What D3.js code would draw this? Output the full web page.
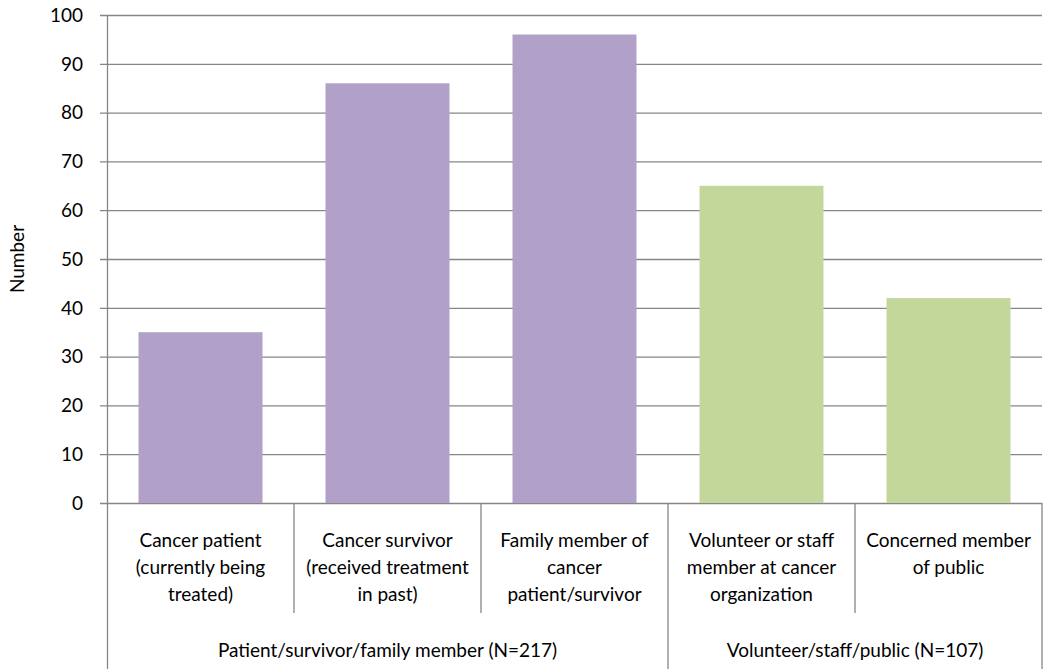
<!DOCTYPE html>
<html>
<head>
<meta charset="utf-8">
<script src="https://cdn.jsdelivr.net/npm/d3@7"></script>
<style>
  body { margin: 0; background: #fff; }
  text { font-family: Lato, "Open Sans", sans-serif; fill: #000; }
</style>
</head>
<body>
<div id="chart"></div>
<script>
(function () {
    'use strict';

    // data
    var categories = [
        ['Cancer patient', '(currently being', 'treated)'],
        ['Cancer survivor', '(received treatment', 'in past)'],
        ['Family member of', 'cancer', 'patient/survivor'],
        ['Volunteer or staff', 'member at cancer', 'organization'],
        ['Concerned member', 'of public']
    ];
    var values = [35, 86, 96, 65, 42];
    var groupOf = [0, 0, 0, 1, 1];
    var groups = ['Patient/survivor/family member (N=217)', 'Volunteer/staff/public (N=107)'];
    var groupColors = ['#b1a0c7', '#c4d79b'];
    var yTicks = [0, 10, 20, 30, 40, 50, 60, 70, 80, 90, 100];

    var W = 1044, H = 669;
    var left = 107, right = 1042, top = 15, bottom = 503;
    var gridColor = '#868686';
    var fs = '19px';

    var svg = d3.select('#chart').append('svg')
                .attr('width', W)
                .attr('height', H);

    var idx = d3.range(values.length);
    var x = d3.scaleBand().domain(idx).range([left, right]).paddingInner(0).paddingOuter(0);
    var y = d3.scaleLinear().domain([0, 100]).range([bottom, top]);

    // gridlines
    svg.append('g').selectAll('line')
       .data(yTicks)
       .enter().append('line')
       .attr('x1', left - 7).attr('x2', right)
       .attr('y1', function (d) { return y(d) + 0.5; })
       .attr('y2', function (d) { return y(d) + 0.5; })
       .attr('stroke', gridColor).attr('stroke-width', 1.3);

    // bars
    var barW = 124;
    svg.append('g').selectAll('rect')
       .data(idx)
       .enter().append('rect')
       .attr('x', function (i) { return x(i) + (x.bandwidth() - barW) / 2; })
       .attr('width', barW)
       .attr('y', function (i) { return y(values[i]); })
       .attr('height', function (i) { return y(0) - y(values[i]); })
       .attr('fill', function (i) { return groupColors[groupOf[i]]; });

    // y axis line and labels
    svg.append('line')
       .attr('x1', left + 0.5).attr('x2', left + 0.5)
       .attr('y1', top).attr('y2', H)
       .attr('stroke', gridColor).attr('stroke-width', 1.3);

    svg.append('g').selectAll('text')
       .data(yTicks)
       .enter().append('text')
       .attr('x', 83)
       .attr('y', function (d) { return y(d); })
       .attr('dy', '0.36em')
       .attr('text-anchor', 'end')
       .style('font-size', fs)
       .text(function (d) { return d; });

    svg.append('text')
       .attr('transform', 'translate(24,' + ((top + bottom) / 2) + ') rotate(-90)')
       .attr('text-anchor', 'middle')
       .style('font-size', '19px')
       .text('Number');

    // category dividers
    var divs = idx.slice(1).map(function (i) {
        return { x: x(i), full: groupOf[i] !== groupOf[i - 1] };
    });
    divs.push({ x: right, full: true });
    svg.append('g').selectAll('line')
       .data(divs)
       .enter().append('line')
       .attr('x1', function (d) { return d.x; })
       .attr('x2', function (d) { return d.x; })
       .attr('y1', bottom)
       .attr('y2', function (d) { return d.full ? H : 613; })
       .attr('stroke', gridColor).attr('stroke-width', 1.3);

    // category labels
    var cat = svg.append('g').selectAll('text')
       .data(idx)
       .enter().append('text')
       .attr('text-anchor', 'middle')
       .style('font-size', fs);
    cat.each(function (i) {
        var t = d3.select(this);
        categories[i].forEach(function (line, k) {
            t.append('tspan')
             .attr('x', x(i) + x.bandwidth() / 2)
             .attr('y', 547 + k * 27)
             .text(line);
        });
    });

    // group labels
    svg.append('g').selectAll('text')
       .data(groups)
       .enter().append('text')
       .attr('text-anchor', 'middle')
       .attr('x', function (g, gi) {
           var members = idx.filter(function (i) { return groupOf[i] === gi; });
           var x0 = x(members[0]);
           var x1 = x(members[members.length - 1]) + x.bandwidth();
           return (x0 + x1) / 2;
       })
       .attr('y', 657)
       .style('font-size', fs)
       .text(function (d) { return d; });
})();
</script>
</body>
</html>
